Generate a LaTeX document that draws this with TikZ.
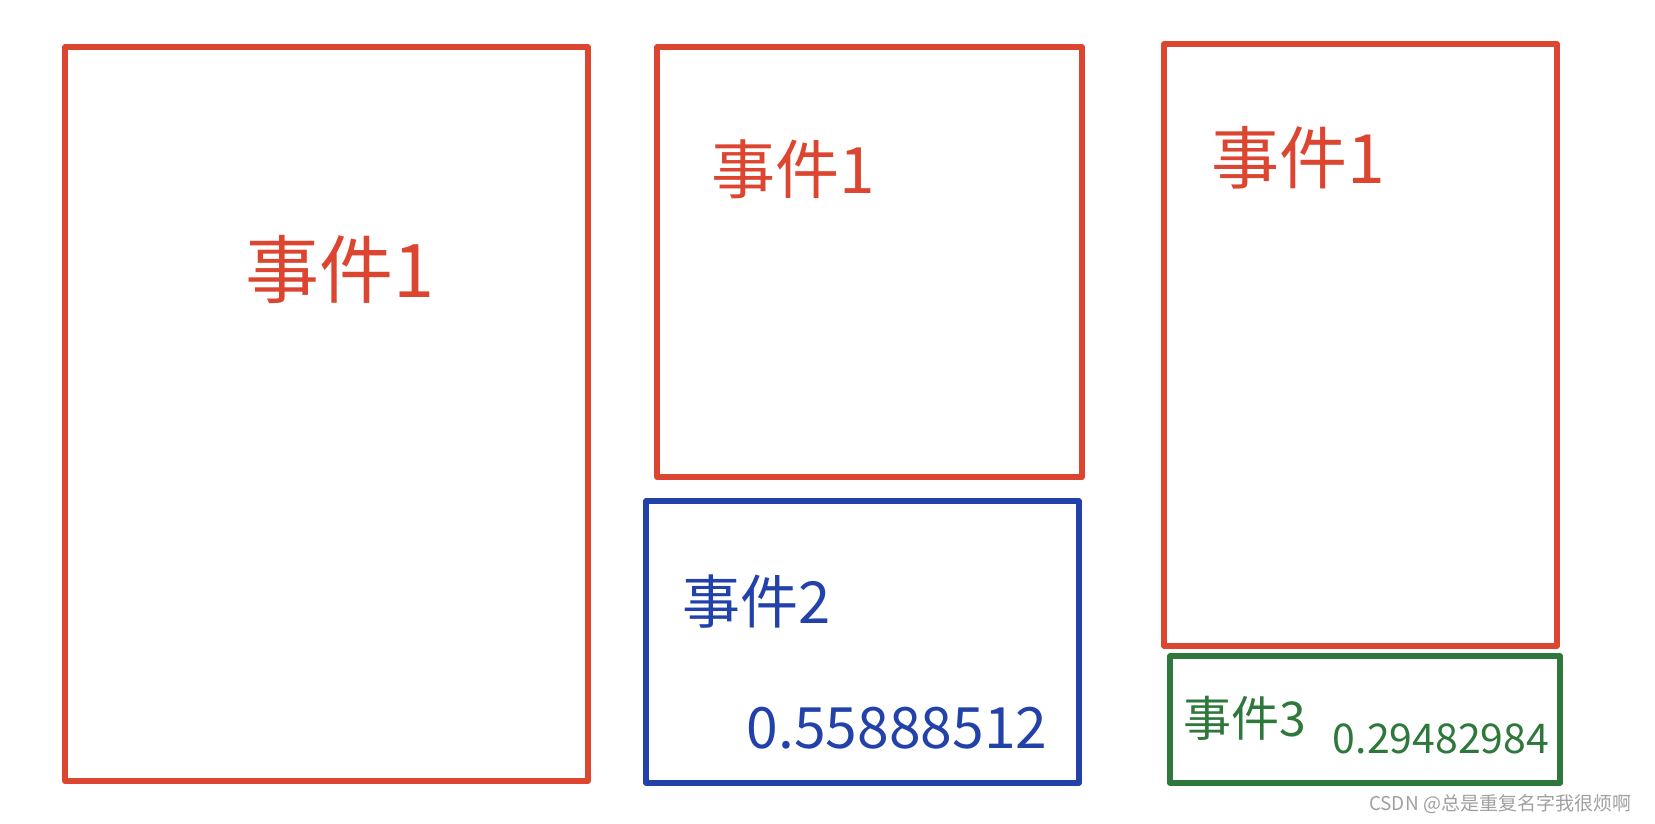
\documentclass[tikz,border=0pt]{standalone}
\usepackage{fontspec}
\newfontfamily\cjk{Noto Sans CJK SC}
\definecolor{hred}{RGB}{220,70,48}
\definecolor{hblue}{RGB}{34,66,170}
\definecolor{hgreen}{RGB}{46,120,60}
\definecolor{wm}{RGB}{160,160,160}
\tikzset{
  box/.style={draw=#1, line width=5.5pt, line join=round, line cap=round, inner sep=0pt},
  lbl/.style={text=#1, inner sep=0pt, font=\cjk},
}
\begin{document}
\begin{tikzpicture}[x=1pt,y=-1pt]
\useasboundingbox[fill=white] (0,0) rectangle (1655,824);
% boxes
\node[box=hred, minimum width=523pt, minimum height=734pt] (b1) at (326.5,414) {};
\node[box=hred, minimum width=425pt, minimum height=430pt] (b2) at (869.5,262) {};
\node[box=hblue, minimum width=433pt, minimum height=282pt] (b3) at (862.5,642) {};
\node[box=hred, minimum width=393pt, minimum height=602pt] (b4) at (1360.5,345) {};
\node[box=hgreen, minimum width=390pt, minimum height=127pt] (b5) at (1365,719.5) {};
% labels
\node[lbl=hred, font=\cjk\fontsize{74}{80}\selectfont] (t1) at (340,269) {事件1};
\node[lbl=hred, font=\cjk\fontsize{64}{72}\selectfont] (t2) at (793,169) {事件1};
\node[lbl=hred, font=\cjk\fontsize{68}{74}\selectfont] (t4) at (1298,158) {事件1};
\node[lbl=hblue, font=\cjk\fontsize{58}{66}\selectfont] (t3) at (757,602) {事件2};
\node[lbl=hblue, font=\cjk\fontsize{57}{64}\selectfont] (n3) at (897,728) {0.55888512};
\node[lbl=hgreen, font=\cjk\fontsize{48}{56}\selectfont] (t5) at (1245,718) {事件3};
\node[lbl=hgreen, font=\cjk\fontsize{41}{48}\selectfont] (n5) at (1441,739) {0.29482984};
\node[lbl=wm, font=\cjk\fontsize{19}{21}\selectfont] (wmk) at (1500,804) {CSDN @总是重复名字我很烦啊};
\end{tikzpicture}
\end{document}
